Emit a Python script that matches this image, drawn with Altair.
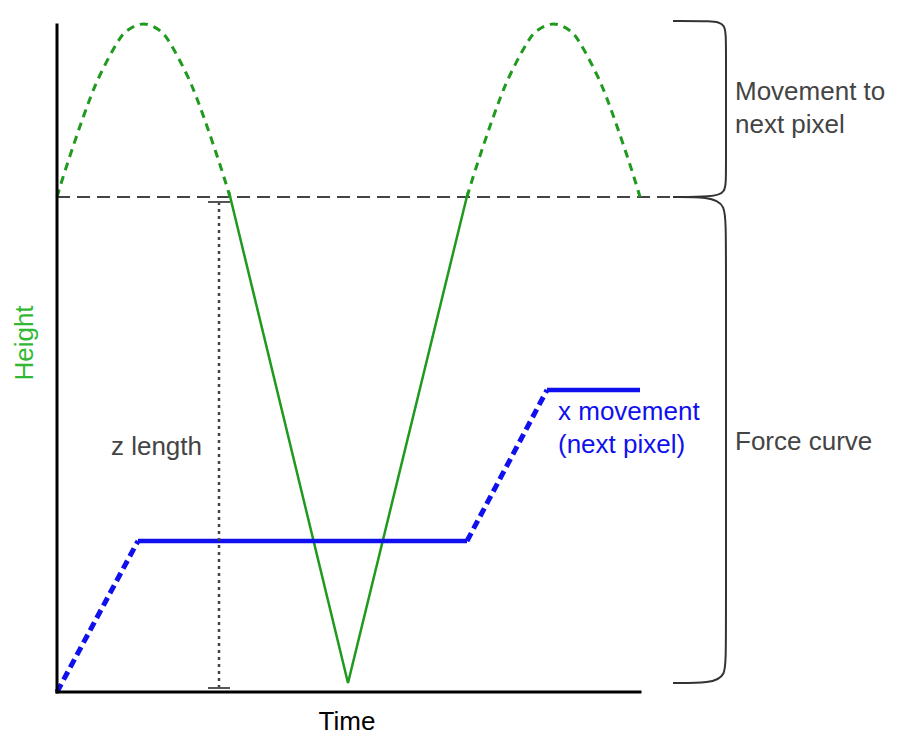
import altair as alt
import pandas as pd

# ---- data (Time / Height units, schematic) ----
arc1_t = [0, 8, 21, 31, 43, 60, 71, 86.5, 102, 113, 130, 142, 152, 165, 173]
arc_h = [495, 521, 560, 588, 617, 649, 662, 668, 662, 649, 617, 588, 560, 521, 495]
arc2_t = [410, 418, 431, 441, 453, 470, 481, 496.5, 512, 523, 540, 552, 562, 575, 583]

force_t = [172, 291, 411]
force_h = [500, 9, 500]

blue_d1_t = [0, 81]
blue_d1_h = [0, 151]
blue_s1_t = [81, 410]
blue_s1_h = [151, 151]
blue_d2_t = [410, 490]
blue_d2_h = [151, 302]
blue_s2_t = [490, 583]
blue_s2_h = [302, 302]

base_t = [0, 643]
base_h = [495, 495]

zlen_t = [162, 162]
zlen_h = [490, 4]
cap_t = [151, 173]

brace1_t = [616, 655, 669, 669, 669, 669, 655, 616]
brace1_h = [671, 671, 669, 647, 517, 499, 495, 495]
brace2_t = [616, 651, 669, 669, 669, 669, 653, 616]
brace2_h = [495, 495, 489, 457, 42, 15, 9, 9]

axis_x_t = [0, 583]
axis_x_h = [0, 0]
axis_y_t = [0, 0]
axis_y_h = [0, 667]

W, H = 583, 667
xs = alt.Scale(domain=[0, W], nice=False, zero=False)
ys = alt.Scale(domain=[0, H], nice=False, zero=False)

GREEN = "#1f9a1f"
BLUE = "#1010ee"
GREY = "#444444"
FONT = "Liberation Sans"
FS = 26


def line(t, h, color, width, dash=None, interp="linear", ordered=False, cap="butt"):
    df = pd.DataFrame({"t": t, "h": h, "i": list(range(len(t)))})
    mk = dict(color=color, strokeWidth=width, interpolate=interp, clip=False, strokeCap=cap)
    if dash:
        mk["strokeDash"] = dash
    enc = dict(x=alt.X("t:Q", scale=xs, axis=None), y=alt.Y("h:Q", scale=ys, axis=None))
    if ordered:
        enc["order"] = alt.Order("i:Q")
    return alt.Chart(df).mark_line(**mk).encode(**enc)


def text(rows, color, size, align="left", angle=0):
    df = pd.DataFrame(rows, columns=["t", "h", "label"])
    mk = dict(color=color, fontSize=size, font=FONT, align=align, baseline="middle")
    if angle:
        mk["angle"] = angle
    return alt.Chart(df).mark_text(**mk).encode(
        x=alt.X("t:Q", scale=xs, axis=None),
        y=alt.Y("h:Q", scale=ys, axis=None),
        text="label:N",
    )


layers = [
    line(base_t, base_h, GREY, 2, dash=[13, 7]),
    line(arc1_t, arc_h, GREEN, 3, dash=[8, 6], interp="natural"),
    line(arc2_t, arc_h, GREEN, 3, dash=[8, 6], interp="natural"),
    line(force_t, force_h, GREEN, 2.5, ordered=True),
    line(blue_d1_t, blue_d1_h, BLUE, 5, dash=[9, 5]),
    line(blue_s1_t, blue_s1_h, BLUE, 4.5),
    line(blue_d2_t, blue_d2_h, BLUE, 5, dash=[9, 5]),
    line(blue_s2_t, blue_s2_h, BLUE, 4.5),
    line(zlen_t, zlen_h, "#444444", 2.5, dash=[3, 4]),
    line(cap_t, [zlen_h[0]] * 2, "#555555", 2),
    line(cap_t, [zlen_h[1]] * 2, "#555555", 2),
    line(brace1_t, brace1_h, "#333333", 2, interp="basis", ordered=True),
    line(brace2_t, brace2_h, "#333333", 2, interp="basis", ordered=True),
    line(axis_x_t, axis_x_h, "#000000", 3, cap="square"),
    line(axis_y_t, axis_y_h, "#000000", 3, cap="square"),
    text([[145, 245, "z length"]], GREY, FS, align="right"),
    text([[501, 280, "x movement"], [501, 247, "(next pixel)"]], BLUE, FS),
    text([[678, 600, "Movement to"], [678, 567, "next pixel"]], GREY, FS),
    text([[678, 250, "Force curve"]], GREY, FS),
    text([[290, -30, "Time"]], "#000000", FS, align="center"),
    text([[-32, 349, "Height"]], "#33b833", FS, align="center", angle=270),
]

chart = (
    alt.layer(*layers)
    .properties(
        width=W,
        height=H,
        autosize=alt.AutoSizeParams(type="none"),
        padding={"left": 49, "top": 17, "right": 250, "bottom": 45},
        background="white",
    )
    .configure_view(stroke=None)
)

chart.save("out.html", embed_options={"renderer": "svg", "actions": False})
